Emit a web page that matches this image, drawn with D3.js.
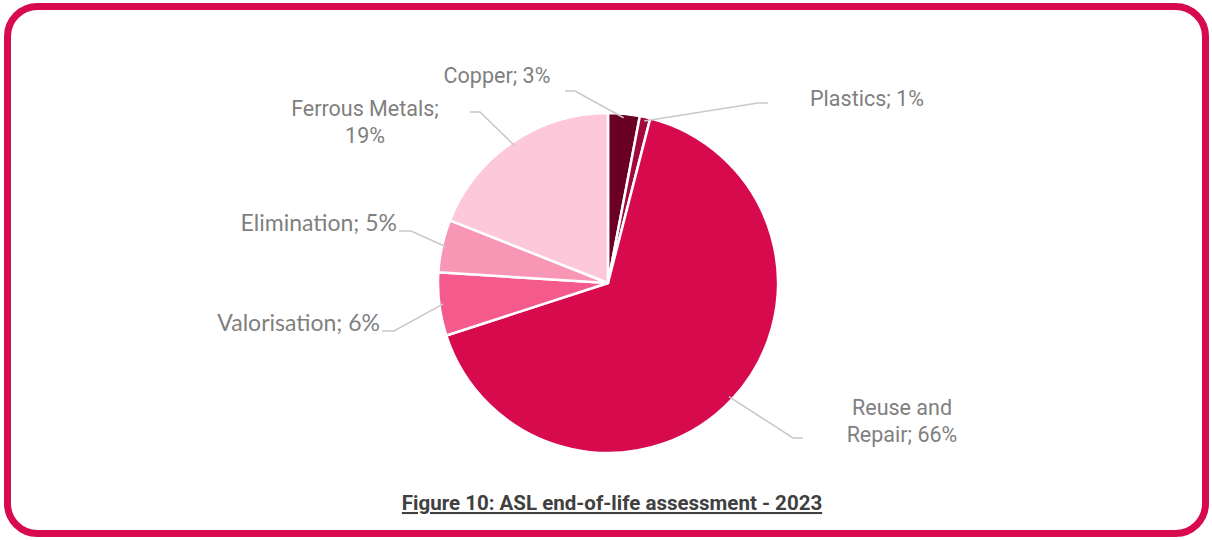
<!DOCTYPE html>
<html>
<head>
<meta charset="utf-8">
<script src="https://cdn.jsdelivr.net/npm/d3@7"></script>
<style>
  body { margin: 0; background: #fff; }
  svg { display: block; }
</style>
</head>
<body>
<svg id="chart" width="1212" height="540"></svg>
<script>
// data
let categories = ["Copper", "Plastics", "Reuse and Repair", "Valorisation", "Elimination", "Ferrous Metals"];
let values = [3, 1, 66, 6, 5, 19];
let colors = ["#6a0124", "#a1083b", "#d80a4e", "#f45a8c", "#f896b6", "#fcc8da"];
let title = "Figure 10: ASL end-of-life assessment - 2023";

let svg = d3.select("#chart");

// ram runt allt
svg.append("rect")
    .attr("x", 7.5).attr("y", 6.5)
    .attr("width", 1198).attr("height", 527)
    .attr("rx", 30).attr("ry", 30)
    .attr("fill", "none")
    .attr("stroke", "#d80a4e")
    .attr("stroke-width", 7);

let cx = 608, cy = 283, radius = 170;

let pie = d3.pie().sort(null).value(d => d.value);
let arcs = pie(categories.map((c, i) => ({ name: c, value: values[i], color: colors[i] })));
let arc = d3.arc().innerRadius(0).outerRadius(radius);

let g = svg.append("g").attr("transform", `translate(${cx},${cy})`);

g.selectAll("path")
    .data(arcs)
    .enter()
    .append("path")
    .attr("d", arc)
    .attr("fill", d => d.data.color)
    .attr("stroke", "#fff")
    .attr("stroke-width", 2.5)
    .attr("stroke-linejoin", "round");

// var etiketterna hamnar (relativt mitten), och var linjen knäcks
let labelLayout = {
    "Copper": { lines: ["Copper; 3%"], x: -111, y: -200, anchor: "middle", end: [-33, -192], tail: -10, font: "Roboto" },
    "Plastics": { lines: ["Plastics; 1%"], x: 259, y: -177, anchor: "middle", end: [150, -180], tail: 10, font: "Roboto" },
    "Reuse and Repair": { lines: ["Reuse and", "Repair; 66%"], x: 294, y: 132, anchor: "middle", end: [185, 155], tail: 10, font: "Roboto" },
    "Valorisation": { lines: ["Valorisation; 6%"], x: -228, y: 48, anchor: "end", end: [-214, 48], tail: -12, font: "Lato" },
    "Elimination": { lines: ["Elimination; 5%"], x: -211, y: -52, anchor: "end", end: [-197, -52], tail: -12, font: "Lato" },
    "Ferrous Metals": { lines: ["Ferrous Metals;", "19%"], x: -243, y: -167, anchor: "middle", end: [-128, -171], tail: -10, font: "Roboto" }
};

arcs.forEach((d) => {
    let layout = labelLayout[d.data.name];
    let mid = (d.startAngle + d.endAngle) / 2;
    // startpunkt strax innanför kanten
    let r0 = radius - 4;
    let x0 = Math.sin(mid) * r0;
    let y0 = -Math.cos(mid) * r0;
    let ex = layout.end[0], ey = layout.end[1];
    let pts = [[x0, y0], [ex, ey], [ex + layout.tail, ey]];
    g.append("polyline")
        .attr("points", pts.map(p => p.join(",")).join(" "))
        .attr("fill", "none")
        .attr("stroke", "#c8c8c8")
        .attr("stroke-width", 1.5);

    let text = g.append("text")
        .attr("x", layout.x)
        .attr("y", layout.y)
        .attr("text-anchor", layout.anchor)
        .attr("fill", "#7f7f7f")
        .attr("font-family", layout.font)
        .attr("font-size", layout.font === "Lato" ? 23 : 21.5);
    layout.lines.forEach((line, i) => {
        text.append("tspan")
            .attr("x", layout.x)
            .attr("dy", i === 0 ? 0 : 27)
            .text(line);
    });
});

svg.append("text")
    .attr("x", 612)
    .attr("y", 510)
    .attr("text-anchor", "middle")
    .attr("fill", "#404040")
    .attr("font-family", "Roboto")
    .attr("font-weight", "bold")
    .attr("font-size", 20.5)
    .attr("text-decoration", "underline")
    .text(title);
</script>
</body>
</html>
